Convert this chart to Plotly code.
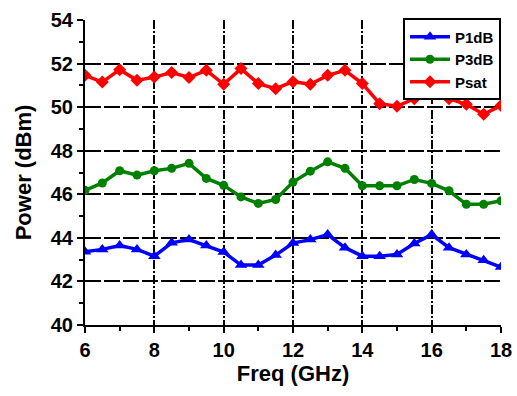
import plotly.graph_objects as go

# Output power vs. frequency, sampled every 0.5 GHz
freq_ghz = [6.0, 6.5, 7.0, 7.5, 8.0, 8.5, 9.0, 9.5, 10.0, 10.5, 11.0, 11.5, 12.0,
            12.5, 13.0, 13.5, 14.0, 14.5, 15.0, 15.5, 16.0, 16.5, 17.0, 17.5, 18.0]

p1db = [43.36, 43.47, 43.65, 43.47, 43.16, 43.77, 43.92, 43.65, 43.35, 42.75, 42.75, 43.21, 43.76,
        43.92, 44.15, 43.55, 43.16, 43.16, 43.24, 43.74, 44.15, 43.55, 43.24, 42.97, 42.66]

p3db = [46.18, 46.52, 47.08, 46.88, 47.08, 47.19, 47.42, 46.73, 46.41, 45.88, 45.58, 45.76, 46.56,
        47.06, 47.49, 47.19, 46.39, 46.39, 46.39, 46.68, 46.50, 46.16, 45.54, 45.54, 45.70]

psat = [51.46, 51.15, 51.72, 51.23, 51.38, 51.59, 51.36, 51.69, 51.05, 51.77, 51.08, 50.85, 51.17,
        51.05, 51.46, 51.69, 51.08, 50.16, 50.04, 50.39, 50.80, 50.39, 50.13, 49.67, 50.07]

series = [
    ("P1dB", p1db, "#0000ff", "triangle-up", 11),
    ("P3dB", p3db, "#008000", "circle", 9),
    ("Psat", psat, "#ff0000", "diamond", 10),
]

FONT = "Liberation Sans, Arial, sans-serif"

fig = go.Figure()
for name, values, color, symbol, size in series:
    fig.add_trace(go.Scatter(
        x=freq_ghz, y=values, name=name, mode="lines+markers",
        line=dict(color=color, width=3.5),
        marker=dict(symbol=symbol, size=size, color=color),
    ))

axis_common = dict(
    showline=True, linecolor="black", linewidth=2,
    ticks="outside", ticklen=6, tickwidth=2, tickcolor="black",
    showgrid=True, gridcolor="black",
    tickfont=dict(family=FONT, size=20, color="black", weight="bold"),
    zeroline=False, mirror=False, automargin=False,
)

fig.update_xaxes(
    **axis_common,
    range=[6, 18], dtick=2, tick0=6,
    gridwidth=2, griddash="9px,2px,2px,2px",
    minor=dict(ticks="outside", ticklen=4, tickwidth=2, tickcolor="black", dtick=1, showgrid=False),
    title=dict(text="Freq (GHz)", font=dict(family=FONT, size=22, color="black", weight="bold"), standoff=5),
)
fig.update_yaxes(
    **axis_common,
    range=[40, 54], dtick=2, tick0=40,
    gridwidth=1.5, griddash="16px,3px",
    minor=dict(ticks="outside", ticklen=4, tickwidth=2, tickcolor="black", dtick=1, showgrid=False),
    title=dict(text="Power (dBm)", font=dict(family=FONT, size=22, color="black", weight="bold"), standoff=13),
)

fig.update_layout(
    width=517, height=396,
    margin=dict(l=85, r=16, t=20, b=71, autoexpand=False),
    paper_bgcolor="white", plot_bgcolor="white",
    showlegend=True,
    legend=dict(
        x=1, y=1.005, xanchor="right", yanchor="top",
        bgcolor="white", bordercolor="black", borderwidth=2,
        font=dict(family=FONT, size=15, color="black", weight="bold"),
        itemwidth=40, tracegroupgap=0,
    ),
)

fig.write_html("out.html")
